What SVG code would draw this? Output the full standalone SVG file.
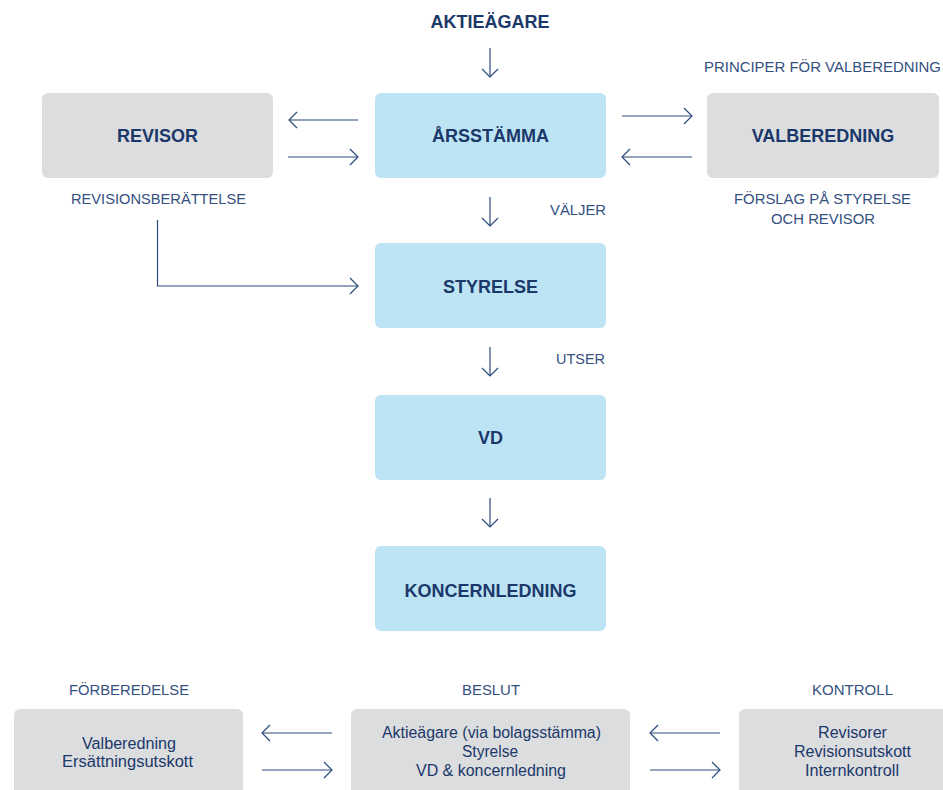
<svg xmlns="http://www.w3.org/2000/svg" width="943" height="790" viewBox="0 0 943 790">
<defs>
<marker id="ah" markerWidth="20" markerHeight="20" refX="10" refY="10" orient="auto" markerUnits="userSpaceOnUse" overflow="visible">
<path d="M2,2 L10,10 L2,18" fill="none" stroke="#2b4a7d" stroke-width="1.2"/>
</marker>
<style>
.blue{fill:#bde4f4}
.grey{fill:#dcdddf}
.b{font-family:"Liberation Sans",Arial,sans-serif;font-weight:bold;font-size:18px;fill:#1b386a;text-anchor:middle}
.s{font-family:"Liberation Sans",Arial,sans-serif;font-size:15px;fill:#34507f;text-anchor:middle}
.t{font-family:"Liberation Sans",Arial,sans-serif;font-size:16px;fill:#1b386a;text-anchor:middle}
.c{fill:none;stroke:#2b4a7d;stroke-width:1.2;marker-end:url(#ah)}
</style>
</defs>
<rect width="943" height="790" fill="#ffffff"/>

<g id="aktieagare"><text class="b" x="490" y="28">AKTIEÄGARE</text></g>

<g id="arsstamma"><rect class="blue" x="375" y="93" width="231" height="85" rx="6"/><text class="b" x="490.5" y="142">ÅRSSTÄMMA</text></g>
<g id="revisor"><rect class="grey" x="42" y="93" width="231" height="85" rx="6"/><text class="b" x="157.5" y="142">REVISOR</text></g>
<g id="valberedning"><rect class="grey" x="707" y="93" width="232" height="85" rx="6"/><text class="b" x="823" y="142">VALBEREDNING</text></g>
<g id="styrelse"><rect class="blue" x="375" y="243" width="231" height="85" rx="6"/><text class="b" x="490.5" y="293">STYRELSE</text></g>
<g id="vd"><rect class="blue" x="375" y="395" width="231" height="85" rx="6"/><text class="b" x="490.5" y="444">VD</text></g>
<g id="koncernledning"><rect class="blue" x="375" y="546" width="231" height="85" rx="6"/><text class="b" x="490.5" y="597">KONCERNLEDNING</text></g>

<g id="labels">
<text class="s" x="822.5" y="72" textLength="237" lengthAdjust="spacingAndGlyphs">PRINCIPER FÖR VALBEREDNING</text>
<text class="s" x="158.5" y="204" textLength="175" lengthAdjust="spacingAndGlyphs">REVISIONSBERÄTTELSE</text>
<text class="s" x="822.5" y="204" textLength="177" lengthAdjust="spacingAndGlyphs">FÖRSLAG PÅ STYRELSE</text>
<text class="s" x="823" y="224" textLength="104" lengthAdjust="spacingAndGlyphs">OCH REVISOR</text>
<text class="s" x="578" y="215" textLength="56" lengthAdjust="spacingAndGlyphs">VÄLJER</text>
<text class="s" x="580.5" y="364" textLength="49" lengthAdjust="spacingAndGlyphs">UTSER</text>
<text class="s" x="129" y="695" textLength="120" lengthAdjust="spacingAndGlyphs">FÖRBEREDELSE</text>
<text class="s" x="491" y="695" textLength="58" lengthAdjust="spacingAndGlyphs">BESLUT</text>
<text class="s" x="852.5" y="695" textLength="81" lengthAdjust="spacingAndGlyphs">KONTROLL</text>
</g>

<g id="forberedelse"><rect class="grey" x="14" y="709" width="229" height="100" rx="6"/>
<text class="t" x="129" y="749" textLength="94" lengthAdjust="spacingAndGlyphs">Valberedning</text>
<text class="t" x="127.5" y="767" textLength="131" lengthAdjust="spacingAndGlyphs">Ersättningsutskott</text></g>
<g id="beslut"><rect class="grey" x="351" y="709" width="279" height="100" rx="6"/>
<text class="t" x="491.5" y="738" textLength="219" lengthAdjust="spacingAndGlyphs">Aktieägare (via bolagsstämma)</text>
<text class="t" x="490" y="757" textLength="56" lengthAdjust="spacingAndGlyphs">Styrelse</text>
<text class="t" x="491" y="776" textLength="150" lengthAdjust="spacingAndGlyphs">VD &amp; koncernledning</text></g>
<g id="kontroll"><rect class="grey" x="739" y="709" width="230" height="100" rx="6"/>
<text class="t" x="852.5" y="738" textLength="69" lengthAdjust="spacingAndGlyphs">Revisorer</text>
<text class="t" x="852.5" y="757" textLength="117" lengthAdjust="spacingAndGlyphs">Revisionsutskott</text>
<text class="t" x="852" y="776" textLength="94" lengthAdjust="spacingAndGlyphs">Internkontroll</text></g>

<g id="connectors">
<path class="c" d="M490,48 V77"/>
<path class="c" d="M358,120 H289"/>
<path class="c" d="M288,157 H358"/>
<path class="c" d="M622,116 H692"/>
<path class="c" d="M692,157 H622"/>
<path class="c" d="M490,197 V226"/>
<path class="c" d="M157.5,220 V286 H358"/>
<path class="c" d="M490,347 V376"/>
<path class="c" d="M490,498 V527"/>
<path class="c" d="M332,733 H262"/>
<path class="c" d="M262,770 H332"/>
<path class="c" d="M720,733 H650"/>
<path class="c" d="M650,770 H720"/>
</g>
</svg>
